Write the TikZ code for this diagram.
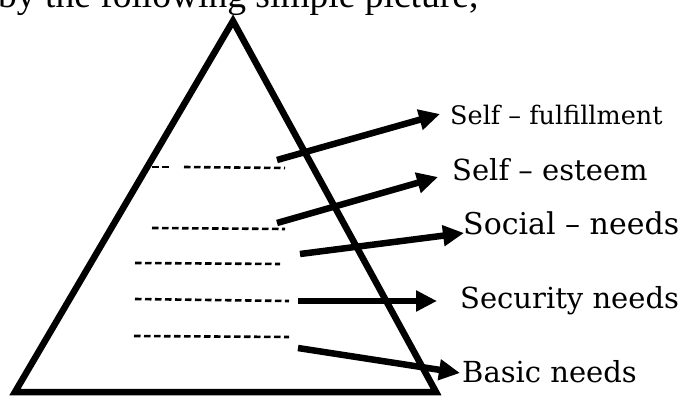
\documentclass[tikz,border=0pt]{standalone}
\usepackage{fontspec}
\setmainfont{DejaVu Serif}
\newfontfamily\headfont{Liberation Serif}
\usetikzlibrary{arrows.meta}
\tikzset{
  tri/.style={draw=black,line width=6.5pt,line join=miter},
  dsh/.style={draw=black,line width=2.6pt,dash pattern=on 6.5pt off 3.5pt},
  arr/.style={draw=black,line width=6.5pt,-{Triangle[length=21pt,width=20pt]}},
  lbl/.style={anchor=base west,inner sep=0pt,font=\fontsize{29}{32}\selectfont}
}
\begin{document}
\begin{tikzpicture}[x=1pt,y=-1pt]
\useasboundingbox (0,0) rectangle (684,399);
% heading line, cut off at the top
\node[anchor=base west,inner sep=0pt,font=\headfont\fontsize{37.5}{40}\selectfont] (hd) at (-2,7) {by the following simple picture,};
% pyramid
\coordinate (top) at (233,21);
\coordinate (bl) at (15,392);
\coordinate (br) at (436,392);
\draw[tri] (top) -- (bl) -- (br) -- cycle;
% dashed levels
\draw[dsh] (152,167) -- (172,167);
\draw[dsh] (184,167) -- (285,168);
\draw[dsh] (152,228) -- (285,229);
\draw[dsh] (135,263) -- (280,264);
\draw[dsh] (135,299) -- (289,301);
\draw[dsh] (134,336) -- (289,337);
% labels
\node[lbl,font=\fontsize{25.5}{28}\selectfont] (sf) at (450,124) {Self -- fulfillment};
\node[lbl] (se) at (452,180) {Self -- esteem};
\node[lbl,font=\fontsize{30}{33}\selectfont] (so) at (463,234) {Social -- needs};
\node[lbl] (sc) at (460,308) {Security needs};
\node[lbl] (ba) at (462,382) {Basic needs};
% arrows
\coordinate (t1) at (277,160); \coordinate (h1) at (440,114);
\coordinate (t2) at (277,223); \coordinate (h2) at (438,177);
\coordinate (t3) at (300,254); \coordinate (h3) at (464,233);
\coordinate (t4) at (298,301); \coordinate (h4) at (437,301);
\coordinate (t5) at (298,348); \coordinate (h5) at (460,373);
\draw[arr] (t1) -- (h1);
\draw[arr] (t2) -- (h2);
\draw[arr] (t3) -- (h3);
\draw[arr] (t4) -- (h4);
\draw[arr] (t5) -- (h5);
\end{tikzpicture}
\end{document}
